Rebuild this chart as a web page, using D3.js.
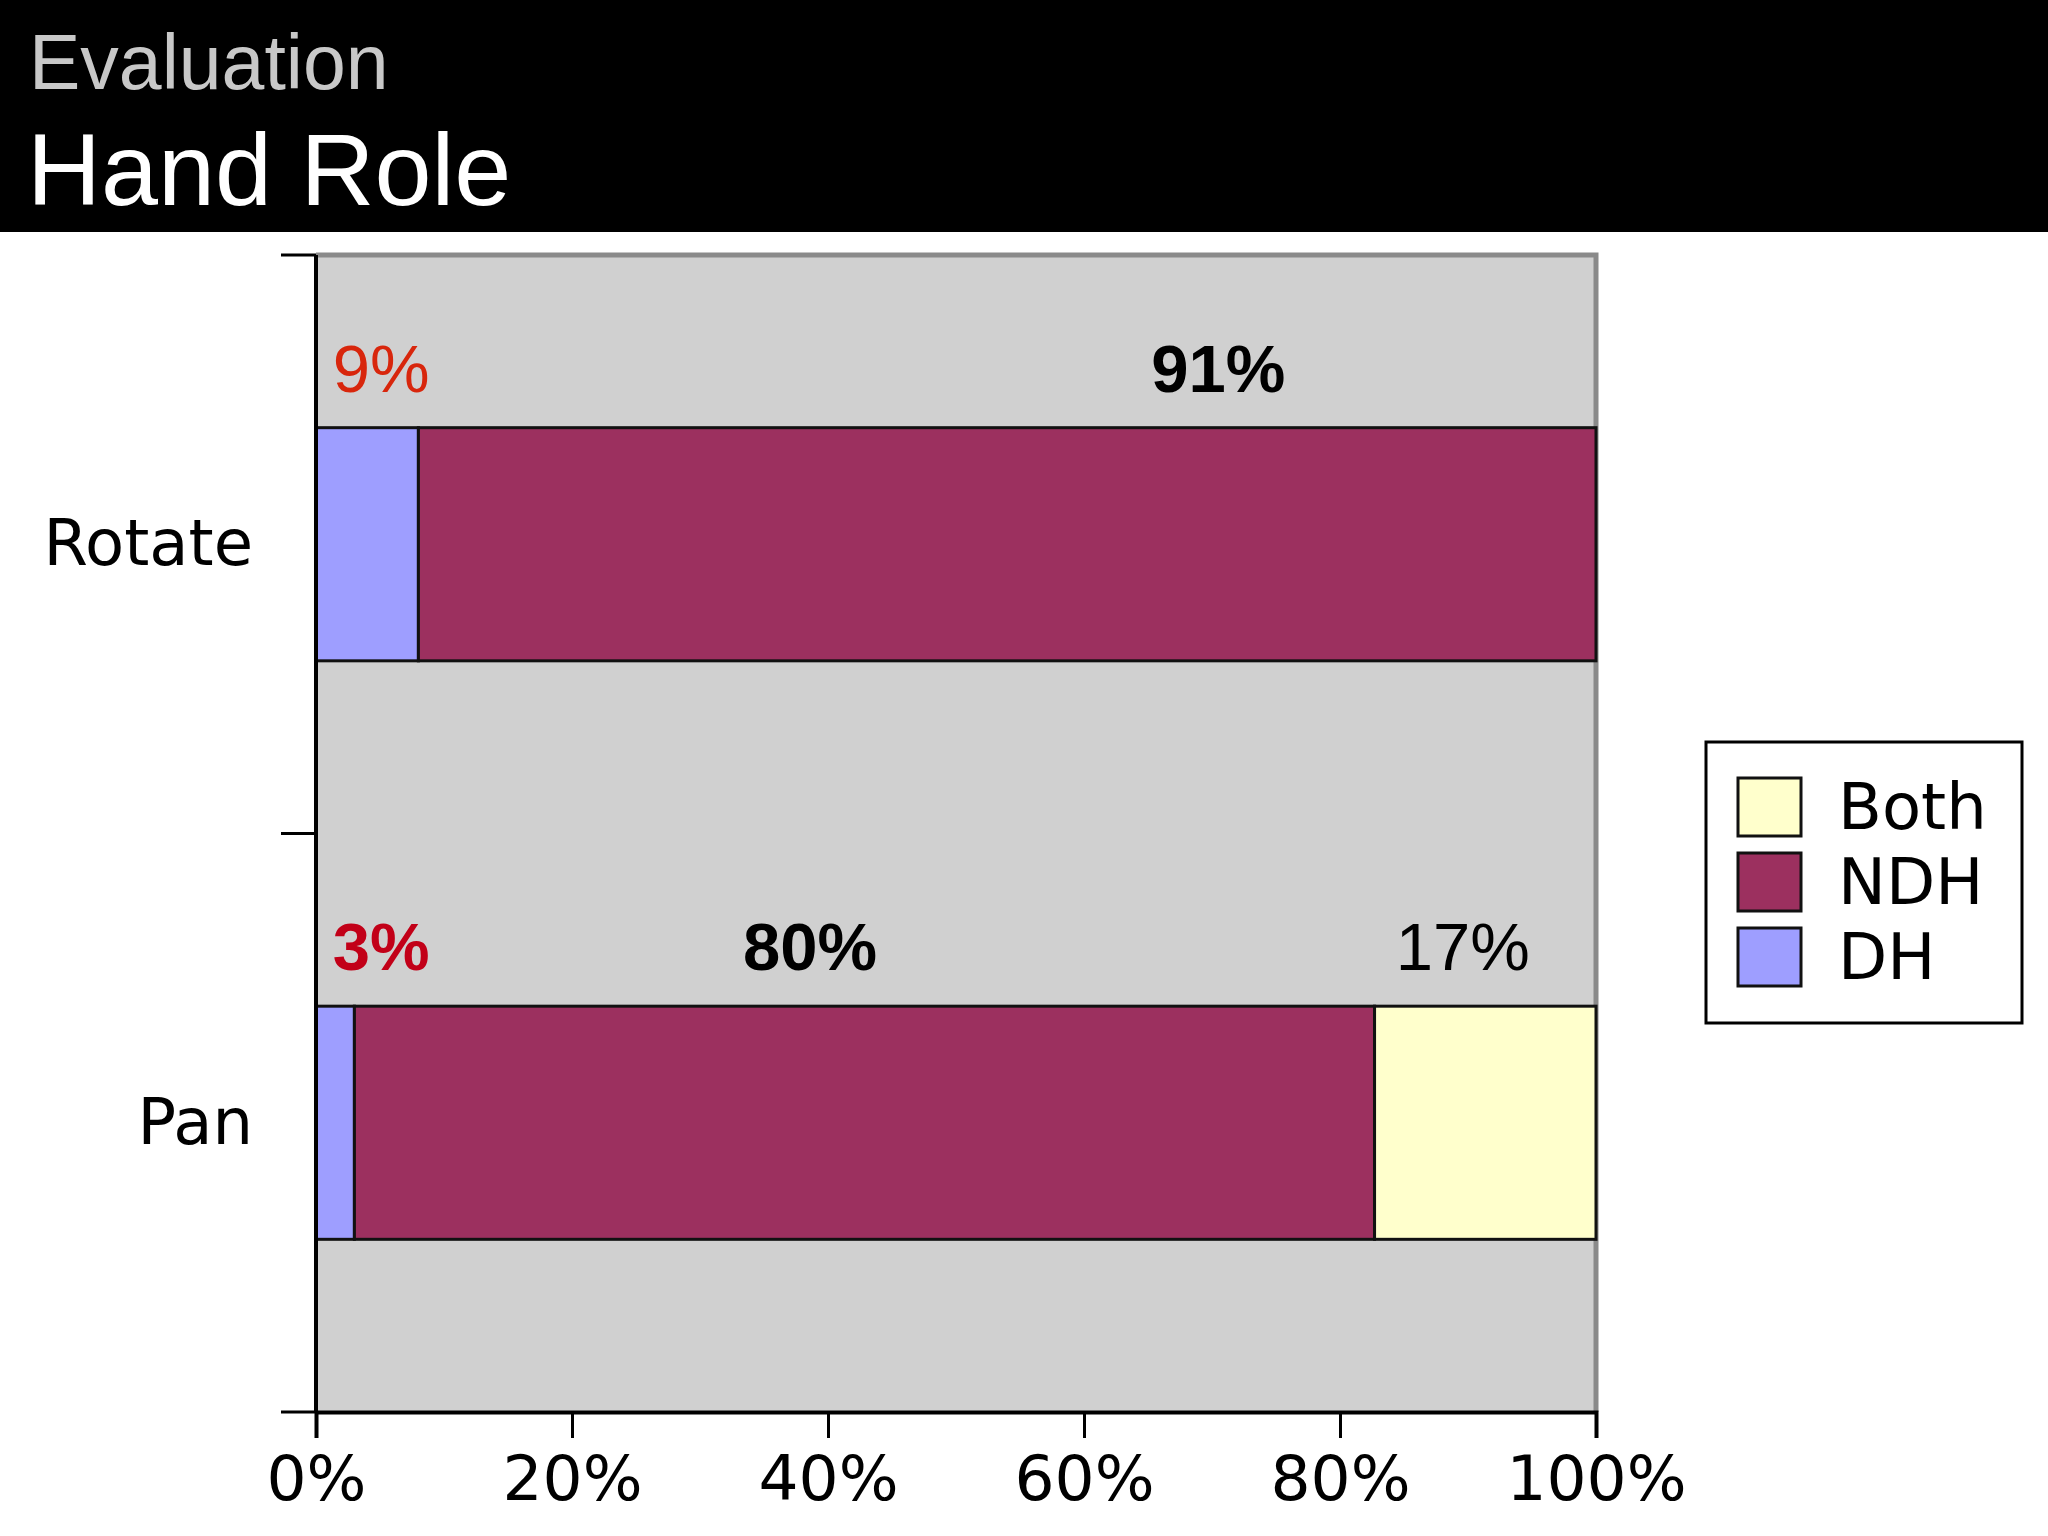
<!DOCTYPE html>
<html>
<head>
<meta charset="utf-8">
<script src="https://cdn.jsdelivr.net/npm/d3@7"></script>
<style>
  body { margin: 0; background: #fff; }
  svg { display: block; }
</style>
</head>
<body>
<div id="chart"></div>
<script>
// categories and series
var categories = ["Rotate", "Pan"];
var seriesNames = ["DH", "NDH", "Both"];
var dhValues = [8, 3];
var ndhValues = [92, 79.7];
var bothValues = [0, 17.3];
var xTicks = [0, 20, 40, 60, 80, 100];

// value labels written over the bars (anchor given in percent units)
var noteCategory = ["Rotate", "Rotate", "Pan", "Pan", "Pan"];
var noteText = ["9%", "91%", "3%", "80%", "17%"];
var noteAt = [1.3, 70.5, 1.3, 38.6, 89.6];
var noteAnchor = ["start", "middle", "start", "middle", "middle"];
var noteBold = [false, true, true, true, false];
var noteColor = ["#d8260c", "#000", "#c20018", "#000", "#000"];

var colors = { DH: "#9e9eff", NDH: "#9c305f", Both: "#ffffcc" };

var W = 2048, H = 1536;
var margin = { top: 255, right: 452, bottom: 124, left: 316 };
var width = W - margin.left - margin.right,
    height = H - margin.top - margin.bottom;

var svg = d3.select("#chart").append("svg")
    .attr("width", W)
    .attr("height", H);

// ****************** header ***************************
svg.append("rect")
    .attr("x", 0).attr("y", 0)
    .attr("width", W).attr("height", 232)
    .attr("fill", "#000");

svg.append("text")
    .attr("x", 29).attr("y", 89)
    .attr("fill", "#c8c8c8")
    .style("font-family", "'Liberation Sans', Arial, sans-serif")
    .style("font-size", "77px")
    .text("Evaluation");

svg.append("text")
    .attr("x", 27).attr("y", 205)
    .attr("fill", "#fff")
    .style("font-family", "'Liberation Sans', Arial, sans-serif")
    .style("font-size", "102.5px")
    .text("Hand Role");

// ****************** plot ***************************
var g = svg.append("g")
    .attr("transform", "translate(" + margin.left + "," + margin.top + ")");

var x = d3.scaleLinear().domain([0, 100]).range([0, width]);
var y = d3.scaleBand().domain(categories).range([0, height]);

// plot background
g.append("rect")
    .attr("width", width).attr("height", height)
    .attr("fill", "#d0d0d0");

// gray frame on top and right
g.append("path")
    .attr("d", "M0,0H" + width + "V" + height)
    .attr("fill", "none")
    .attr("stroke", "#8a8a8a")
    .attr("stroke-width", 5);

// stack the series
var rows = categories.map(function(c, i) {
  return { cat: c, DH: dhValues[i], NDH: ndhValues[i], Both: bothValues[i] };
});
var stacked = d3.stack().keys(seriesNames)(rows);

var barH = y.bandwidth() * 0.403;
var barOff = (y.bandwidth() - barH) / 2;

g.selectAll("g.layer")
  .data(stacked)
  .enter().append("g")
    .attr("class", "layer")
    .attr("fill", function(d) { return colors[d.key]; })
  .selectAll("rect")
  .data(function(d) { return d.filter(function(s) { return s[1] - s[0] > 0; }); })
  .enter().append("rect")
    .attr("x", function(d) { return x(d[0]); })
    .attr("y", function(d) { return y(d.data.cat) + barOff; })
    .attr("width", function(d) { return x(d[1]) - x(d[0]); })
    .attr("height", barH)
    .attr("stroke", "#111")
    .attr("stroke-width", 3);

// annotations
g.selectAll("text.note")
  .data(noteText)
  .enter().append("text")
    .attr("class", "note")
    .attr("x", function(d, i) { return x(noteAt[i]); })
    .attr("y", function(d, i) { return y(noteCategory[i]) + barOff - 36; })
    .attr("text-anchor", function(d, i) { return noteAnchor[i]; })
    .attr("fill", function(d, i) { return noteColor[i]; })
    .style("font-family", "'Liberation Sans', Arial, sans-serif")
    .style("font-size", "67px")
    .style("font-weight", function(d, i) { return noteBold[i] ? "bold" : "normal"; })
    .text(function(d) { return d; });

// x axis
var xAxis = g.append("g")
    .attr("transform", "translate(0," + height + ")")
    .call(d3.axisBottom(x).tickValues(xTicks)
      .tickFormat(function(d) { return d + "%"; })
      .tickSize(26).tickPadding(17));
xAxis.select(".domain").attr("stroke", "#000").attr("stroke-width", 4);
xAxis.selectAll(".tick line").attr("stroke", "#000").attr("stroke-width", 3);
xAxis.selectAll(".tick text")
    .attr("fill", "#000")
    .style("font-family", "'DejaVu Sans', sans-serif")
    .style("font-size", "63px");

// y axis: ticks at the band boundaries, labels centered in bands
var yAxis = g.append("g");
yAxis.append("line")
    .attr("x1", 0).attr("x2", 0)
    .attr("y1", 0).attr("y2", height)
    .attr("stroke", "#000").attr("stroke-width", 4);
var bounds = categories.map(function(c) { return y(c); }).concat([height]);
yAxis.selectAll("line.tick")
  .data(bounds)
  .enter().append("line")
    .attr("class", "tick")
    .attr("x1", -35).attr("x2", 0)
    .attr("y1", function(d) { return d; })
    .attr("y2", function(d) { return d; })
    .attr("stroke", "#000").attr("stroke-width", 3);
yAxis.selectAll("text.cat")
  .data(categories)
  .enter().append("text")
    .attr("class", "cat")
    .attr("x", -63)
    .attr("y", function(d) { return y(d) + y.bandwidth() / 2; })
    .attr("dy", "0.33em")
    .attr("text-anchor", "end")
    .attr("fill", "#000")
    .style("font-family", "'DejaVu Sans', sans-serif")
    .style("font-size", "64px")
    .text(function(d) { return d; });

// ****************** legend ***************************
var legendOrder = ["Both", "NDH", "DH"];
var legend = svg.append("g")
    .attr("transform", "translate(1706,742)");
legend.append("rect")
    .attr("width", 316).attr("height", 281)
    .attr("fill", "#fff")
    .attr("stroke", "#000")
    .attr("stroke-width", 3);
var item = legend.selectAll("g.item")
  .data(legendOrder)
  .enter().append("g")
    .attr("class", "item")
    .attr("transform", function(d, i) { return "translate(32," + (36 + i * 75) + ")"; });
item.append("rect")
    .attr("width", 63).attr("height", 58)
    .attr("fill", function(d) { return colors[d]; })
    .attr("stroke", "#111")
    .attr("stroke-width", 3);
item.append("text")
    .attr("x", 100).attr("y", 51)
    .attr("fill", "#000")
    .style("font-family", "'DejaVu Sans', sans-serif")
    .style("font-size", "64px")
    .text(function(d) { return d; });
</script>
</body>
</html>
